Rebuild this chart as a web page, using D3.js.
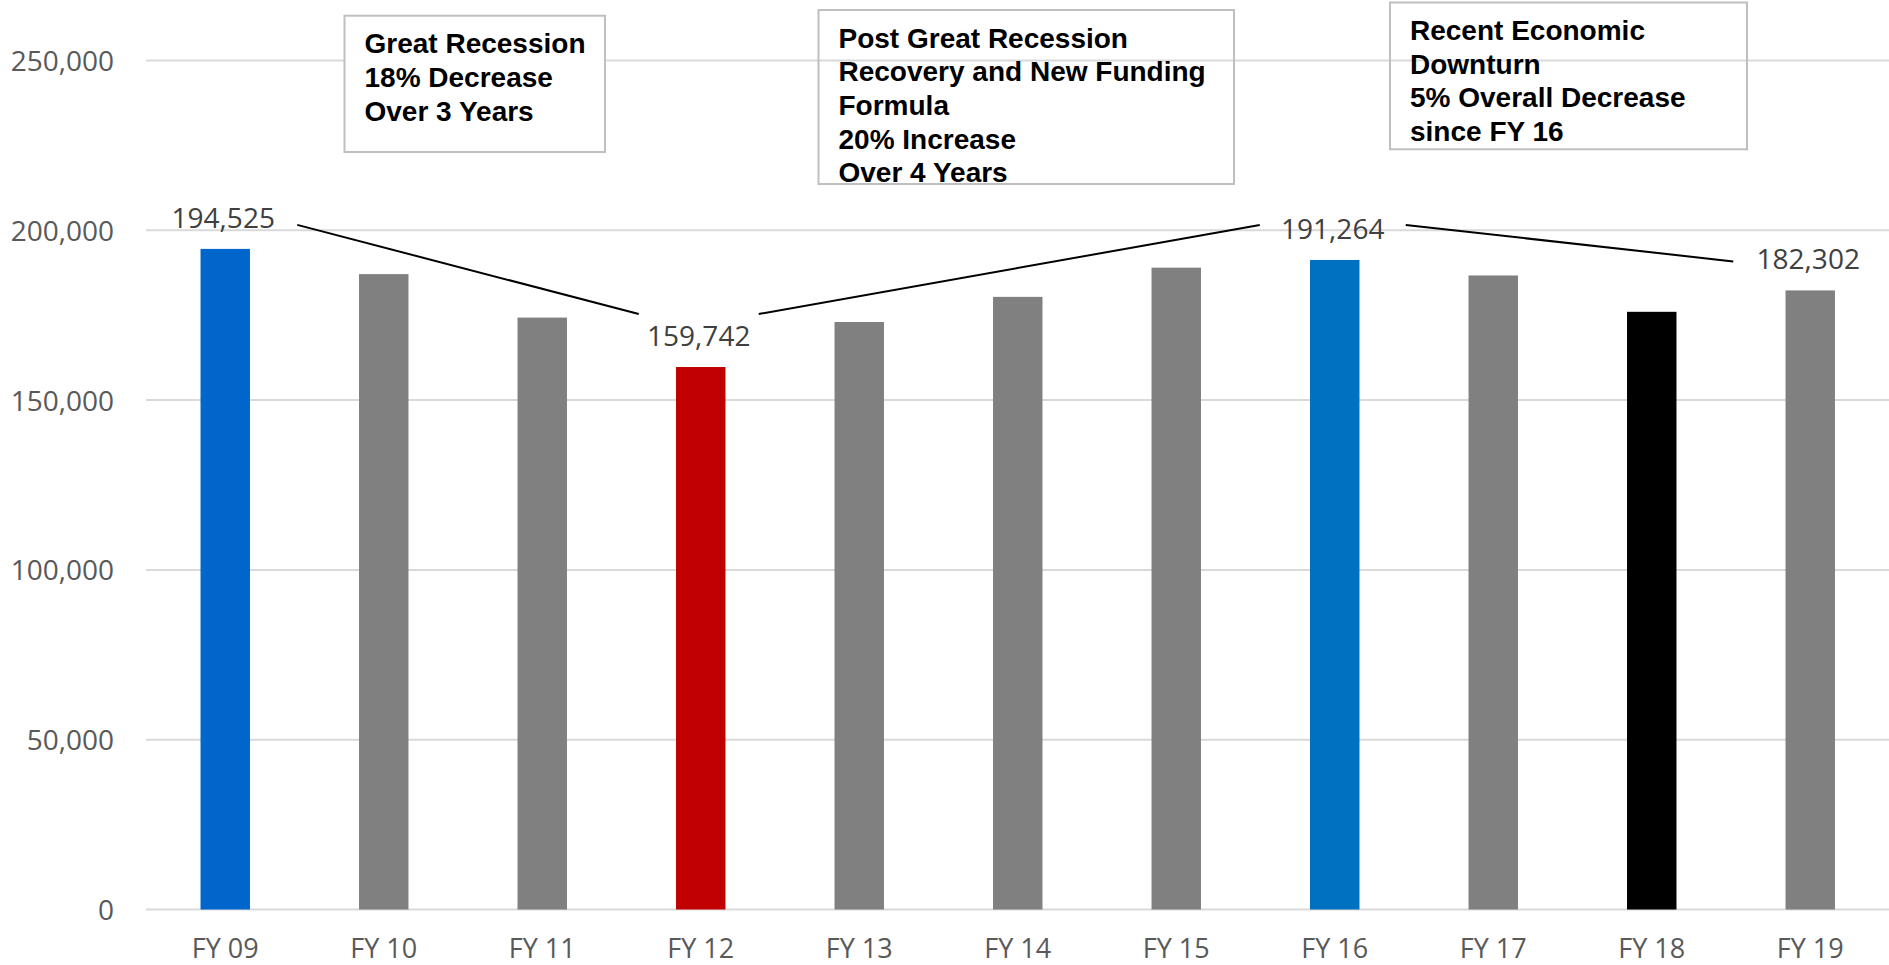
<!DOCTYPE html>
<html>
<head>
<meta charset="utf-8">
<script src="https://cdn.jsdelivr.net/npm/d3@7"></script>
<style>
  html, body { margin: 0; padding: 0; background: #ffffff; }
  svg { display: block; }
</style>
</head>
<body>
<svg id="chart" width="1889" height="965"></svg>
<script>
// ---- Data ----
const categories = ["FY 09", "FY 10", "FY 11", "FY 12", "FY 13", "FY 14", "FY 15", "FY 16", "FY 17", "FY 18", "FY 19"];
const values = [194525, 187100, 174300, 159742, 173000, 180400, 189000, 191264, 186700, 176000, 182302];
const yTicks = [0, 50000, 100000, 150000, 200000, 250000];
const labelledCategories = ["FY 09", "FY 12", "FY 16", "FY 19"];
const annotationGreatRecession = ["Great Recession", "18% Decrease", "Over 3 Years"];
const annotationRecovery = ["Post Great Recession", "Recovery and New Funding", "Formula", "20% Increase", "Over 4 Years"];
const annotationDownturn = ["Recent Economic", "Downturn", "5% Overall Decrease", "since FY 16"];

// ---- Styles ----
const barColor = {"FY 09": "#0066CC", "FY 12": "#C00000", "FY 16": "#0070C0", "FY 18": "#000000"};
const defaultBar = "#808080";
const axisFont = "'Open Sans', 'Noto Sans', sans-serif";
const boxFont = "'Liberation Sans', Arial, sans-serif";

const svg = d3.select("#chart");

const x = d3.scaleBand()
  .domain(categories)
  .range([146, 1889.5])
  .paddingInner(0.688)
  .paddingOuter(0.344);

const y = d3.scaleLinear()
  .domain([0, 250000])
  .range([909.5, 60.5]);

// Gridlines
svg.append("g")
  .selectAll("line")
  .data(yTicks)
  .join("line")
  .attr("x1", 146)
  .attr("x2", 1889)
  .attr("y1", d => y(d))
  .attr("y2", d => y(d))
  .attr("stroke", "#D9D9D9")
  .attr("stroke-width", 2);

// Y axis labels
const yAxis = d3.axisLeft(y).tickValues(yTicks).tickFormat(d3.format(",")).tickSize(0).tickPadding(0);
const yg = svg.append("g").attr("transform", "translate(114,0)").call(yAxis);
yg.select(".domain").remove();
yg.selectAll("text")
  .attr("font-family", axisFont)
  .attr("font-size", 28)
  .attr("fill", "#595959")
  .attr("dy", "0.36em");

// X axis labels
const xAxis = d3.axisBottom(x).tickSize(0).tickPadding(0);
const xg = svg.append("g").attr("transform", "translate(0,0)").call(xAxis);
xg.select(".domain").remove();
xg.selectAll("text")
  .attr("font-family", axisFont)
  .attr("font-size", 27)
  .attr("fill", "#595959")
  .attr("y", 958)
  .attr("dy", null);

// Annotation boxes
function drawBox(lines, bx, by, bw, bh, fill) {
  const g = svg.append("g");
  g.append("rect")
    .attr("x", bx).attr("y", by).attr("width", bw).attr("height", bh)
    .attr("fill", fill)
    .attr("stroke", "#BFBFBF")
    .attr("stroke-width", 2);
  g.selectAll("text")
    .data(lines)
    .join("text")
    .attr("x", bx + 20)
    .attr("y", (d, i) => by + 37.5 + i * 33.7)
    .attr("font-family", boxFont)
    .attr("font-weight", "bold")
    .attr("font-size", 28)
    .attr("fill", "#000000")
    .text(d => d);
}
drawBox(annotationGreatRecession, 344.5, 15.7, 260.5, 136.3, "#ffffff");
drawBox(annotationRecovery, 818.5, 10, 415.5, 174, "none");
drawBox(annotationDownturn, 1390, 2.5, 357, 146.8, "none");

// Bars
const data = categories.map((c, i) => ({cat: c, val: values[i]}));
svg.append("g")
  .selectAll("rect")
  .data(data)
  .join("rect")
  .attr("x", d => x(d.cat))
  .attr("width", x.bandwidth())
  .attr("y", d => y(d.val))
  .attr("height", d => y(0) - y(d.val))
  .attr("fill", d => barColor[d.cat] || defaultBar);

// Data labels
const fmt = d3.format(",");
const labelled = data.filter(d => labelledCategories.includes(d.cat));
const labelPos = {};
labelled.forEach(d => {
  labelPos[d.cat] = {cx: x(d.cat) + x.bandwidth() / 2 - 2, base: y(d.val) - 21};
});
svg.append("g")
  .selectAll("text")
  .data(labelled)
  .join("text")
  .attr("x", d => labelPos[d.cat].cx)
  .attr("y", d => labelPos[d.cat].base)
  .attr("text-anchor", "middle")
  .attr("font-family", axisFont)
  .attr("font-size", 28)
  .attr("fill", "#404040")
  .text(d => fmt(d.val));

// Connector lines between labels
const a = labelPos["FY 09"], b = labelPos["FY 12"], c = labelPos["FY 16"], e = labelPos["FY 19"];
const segments = [
  [[a.cx + 74, a.base - 3], [b.cx - 60, b.base - 32]],
  [[b.cx + 60, b.base - 32], [c.cx - 73, c.base - 14]],
  [[c.cx + 73, c.base - 14], [e.cx - 75, e.base - 8]]
];
svg.append("g")
  .selectAll("line")
  .data(segments)
  .join("line")
  .attr("x1", d => d[0][0]).attr("y1", d => d[0][1])
  .attr("x2", d => d[1][0]).attr("y2", d => d[1][1])
  .attr("stroke", "#000000")
  .attr("stroke-width", 2);
</script>
</body>
</html>
